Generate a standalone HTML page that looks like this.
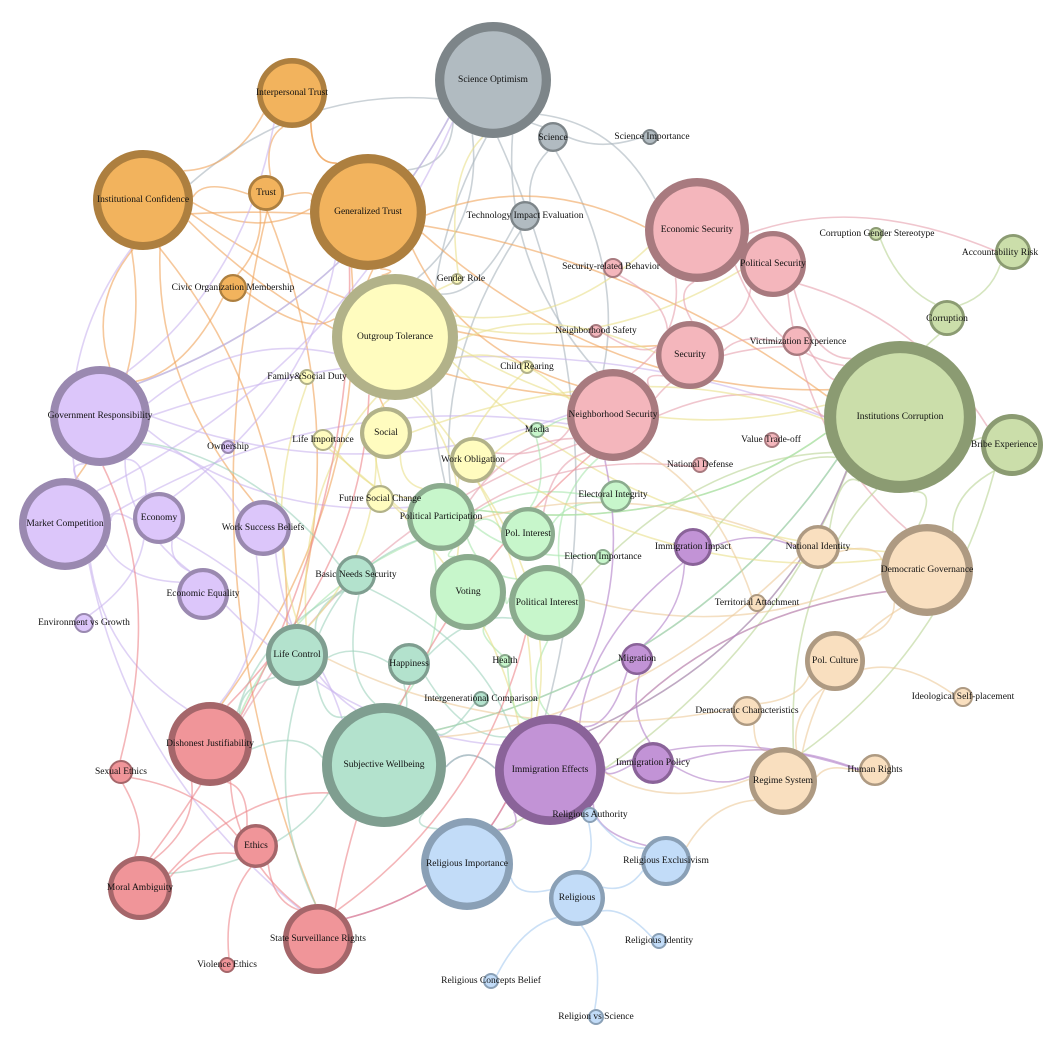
<!DOCTYPE html>
<html><head><meta charset="utf-8"><style>
html,body{margin:0;padding:0;background:#fff;width:1052px;height:1046px;overflow:hidden}
svg{display:block}
text{font-family:"Liberation Serif",serif;font-size:9.5px;fill:#111;text-anchor:middle;dominant-baseline:central}
</style></head><body>
<svg id="s" width="1052" height="1046" viewBox="0 0 1052 1046">
<g id="edges" fill="none" stroke-width="1.6" stroke-opacity="0.6"></g>
<g id="nodes"></g>
<g id="labels">
<text x="493" y="80">Science Optimism</text>
<text x="292" y="93">Interpersonal Trust</text>
<text x="143" y="200">Institutional Confidence</text>
<text x="266" y="193">Trust</text>
<text x="368" y="212">Generalized Trust</text>
<text x="233" y="288">Civic Organization Membership</text>
<text x="553" y="138">Science</text>
<text x="652" y="137">Science Importance</text>
<text x="525" y="216">Technology Impact Evaluation</text>
<text x="697" y="230">Economic Security</text>
<text x="773" y="264">Political Security</text>
<text x="611" y="267">Security-related Behavior</text>
<text x="877" y="234">Corruption Gender Stereotype</text>
<text x="1000" y="253">Accountability Risk</text>
<text x="947" y="319">Corruption</text>
<text x="461" y="279">Gender Role</text>
<text x="395" y="337">Outgroup Tolerance</text>
<text x="596" y="331">Neighborhood Safety</text>
<text x="690" y="355">Security</text>
<text x="798" y="342">Victimization Experience</text>
<text x="527" y="367">Child Rearing</text>
<text x="307" y="377">Family&amp;Social Duty</text>
<text x="900" y="417">Institutions Corruption</text>
<text x="1004" y="445">Bribe Experience</text>
<text x="100" y="416">Government Responsibility</text>
<text x="613" y="415">Neighborhood Security</text>
<text x="386" y="433">Social</text>
<text x="323" y="440">Life Importance</text>
<text x="228" y="447">Ownership</text>
<text x="537" y="430">Media</text>
<text x="771" y="440">Value Trade-off</text>
<text x="473" y="460">Work Obligation</text>
<text x="700" y="465">National Defense</text>
<text x="65" y="524">Market Competition</text>
<text x="159" y="518">Economy</text>
<text x="263" y="528">Work Success Beliefs</text>
<text x="380" y="499">Future Social Change</text>
<text x="441" y="517">Political Participation</text>
<text x="613" y="495">Electoral Integrity</text>
<text x="528" y="534">Pol. Interest</text>
<text x="693" y="547">Immigration Impact</text>
<text x="818" y="547">National Identity</text>
<text x="927" y="570">Democratic Governance</text>
<text x="603" y="557">Election Importance</text>
<text x="356" y="575">Basic Needs Security</text>
<text x="203" y="594">Economic Equality</text>
<text x="468" y="592">Voting</text>
<text x="547" y="603">Political Interest</text>
<text x="757" y="603">Territorial Attachment</text>
<text x="84" y="623">Environment vs Growth</text>
<text x="297" y="655">Life Control</text>
<text x="409" y="664">Happiness</text>
<text x="505" y="661">Health</text>
<text x="637" y="659">Migration</text>
<text x="835" y="661">Pol. Culture</text>
<text x="963" y="697">Ideological Self-placement</text>
<text x="481" y="699">Intergenerational Comparison</text>
<text x="747" y="711">Democratic Characteristics</text>
<text x="210" y="744">Dishonest Justifiability</text>
<text x="384" y="765">Subjective Wellbeing</text>
<text x="550" y="770">Immigration Effects</text>
<text x="653" y="763">Immigration Policy</text>
<text x="783" y="781">Regime System</text>
<text x="875" y="770">Human Rights</text>
<text x="121" y="772">Sexual Ethics</text>
<text x="590" y="815">Religious Authority</text>
<text x="256" y="846">Ethics</text>
<text x="666" y="861">Religious Exclusivism</text>
<text x="467" y="864">Religious Importance</text>
<text x="140" y="888">Moral Ambiguity</text>
<text x="577" y="898">Religious</text>
<text x="318" y="939">State Surveillance Rights</text>
<text x="659" y="941">Religious Identity</text>
<text x="227" y="965">Violence Ethics</text>
<text x="491" y="981">Religious Concepts Belief</text>
<text x="596" y="1017">Religion vs Science</text>
</g>
</svg>
<script>
var C={o:["#f2b35d","#ad7f3f","#f0a35a"],g:["#b1bbc1","#7d8589","#a8b4bc"],p:["#f4b6bc","#a87a7f","#e6a0ad"],G:["#cbdeaa","#8b9b72","#b9d494"],y:["#fffcbf","#b2b289","#e9e08a"],v:["#dcc6fa","#9a89b0","#c9b4ef"],l:["#c7f6cb","#8bab8e","#a8e6ae"],m:["#c293d6","#8a6399","#b07fc8"],e:["#f9dfbf","#ae9a82","#edc99a"],t:["#b3e2cd","#7f9e90","#9fd2bd"],r:["#f09599","#a5666a","#ec868b"],b:["#c2dcf8","#8aa0b6","#a9cbf0"]};
var N={
SO:[493,80,58,"g"],IT:[292,93,35,"o"],IC:[143,200,50,"o"],TR:[266,193,18,"o"],GT:[368,212,58,"o"],CO:[233,288,14,"o"],
SC:[553,137,15,"g"],SI:[650,137,8,"g"],TE:[525,216,15,"g"],ES:[697,230,52,"p"],PS:[773,264,33,"p"],SB:[613,268,10,"p"],
CG:[876,234,7,"G"],AR:[1013,252,18,"G"],CR:[947,318,18,"G"],GR:[457,279,6,"y"],OT:[395,337,63,"y"],NS:[596,331,7,"p"],
SE:[690,355,34,"p"],VE:[797,341,15,"p"],CH:[527,367,7,"y"],FD:[307,377,8,"y"],IN:[900,417,76,"G"],BE:[1012,445,31,"G"],
GV:[100,416,50,"v"],NH:[613,415,46,"p"],SOC:[386,433,26,"y"],LI:[323,440,11,"y"],OW:[228,447,7,"v"],ME:[537,430,8,"l"],
VT:[772,440,8,"p"],WO:[473,460,23,"y"],ND:[700,465,8,"p"],MC:[65,524,46,"v"],EC:[159,518,26,"v"],WS:[263,528,28,"v"],
FS:[380,499,14,"y"],PP:[441,517,34,"l"],EI:[616,496,16,"l"],PI:[528,534,27,"l"],II:[693,547,19,"m"],NI:[818,547,22,"e"],
DG:[927,570,46,"e"],EL:[603,557,8,"l"],BN:[356,575,20,"t"],EQ:[203,594,26,"v"],VO:[468,592,38,"l"],PO:[547,603,38,"l"],
TA:[757,603,9,"e"],EG:[84,623,10,"v"],LC:[297,655,31,"t"],HA:[409,664,21,"t"],HE:[505,661,7,"l"],MI:[637,659,16,"m"],
PC:[835,661,30,"e"],IS:[963,697,10,"e"],IG:[481,699,8,"t"],DC:[747,711,15,"e"],DJ:[210,744,42,"r"],SW:[384,765,62,"t"],
IE:[550,770,55,"m"],IP:[653,763,21,"m"],RS:[783,781,34,"e"],HR:[875,770,16,"e"],SX:[121,772,12,"r"],RA:[590,815,8,"b"],
ET:[256,846,22,"r"],RX:[666,861,25,"b"],RI:[467,864,46,"b"],MA:[140,888,32,"r"],RE:[577,898,28,"b"],SS:[318,939,35,"r"],
RD:[659,941,8,"b"],VI:[227,965,8,"r"],RC:[491,981,8,"b"],RV:[596,1017,8,"b"]};
var E="SO-GT SO-IC SO-GV SO-SC SO-ES SO-NH SO-IE SO-PP SO-OT SC-SI SC-NH SC-TE TE-OT TE-PP GT-IT GT-TR GT-IC GT-NH GT-ES GT-IN GT-OT GT-SOC GT-DJ IT-TR IT-IC IT-GT IC-TR IC-GV IC-MC IC-NH IC-IN IC-SE IC-LC IC-WS TR-CO TR-SS TR-LC CO-OT CO-GV GV-SO GV-IN GV-NH GV-EC GV-EQ GV-WS GV-PP GV-OT GV-IT MC-EC MC-DJ MC-GV MC-SS MC-IC MC-SO MC-NH MC-EQ EC-EG EC-GT EC-SW EQ-IE EQ-EC WS-SW WS-DJ OT-ES OT-NH OT-IN OT-SE OT-PS OT-IE OT-DG OT-VO OT-LC NH-IN NH-PP NH-SE NH-ES NH-VE NH-DJ NH-WO NH-PI ES-PS ES-SE ES-AR ES-IN PS-SE PS-IN PS-BE PS-DG SE-VE VE-IN SB-SE NS-SE IN-CR IN-BE IN-DG IN-PO IN-PP IN-RS IN-SW IN-NI IN-RI IN-II IN-IE CG-CR AR-CR BE-DG BE-RS DG-NI DG-PO DG-RS DG-PC DG-IE PC-DC PC-RS PC-IS HR-RS RS-IE RS-RX RS-DC PP-VO PP-PI PP-PO PP-SW PP-DJ PP-EI PP-IN PI-EI PI-ME PO-VO PO-IE PO-NH VO-HE II-MI II-IE II-NI MI-IP MI-IE IE-IP IE-RI IE-RX IE-SS IE-SW IE-HR IE-NH IE-DG IE-IN IP-HR IP-RS SW-LC SW-HA SW-BN SW-RI SW-MA SW-DJ SW-IE SW-IN LC-BN LC-DJ LC-HA LC-SS LC-PP HA-IE HA-PO BN-DJ BN-IE BN-GV DJ-ET DJ-SS DJ-MA DJ-OT MA-ET MA-SX MA-SW MA-GT SX-ET SX-GV SS-ET SS-IE SS-NH SS-PO VI-ET RI-RE RA-RE RA-RX RX-RE RD-RE RC-RE RV-RE FS-OT FS-PP SOC-IN SOC-PP SOC-LC LI-PP LI-IE FD-LC WO-NH WO-DG WO-IE CH-PP GR-SO GR-OT ME-NH ND-PP EL-PP TA-NH DC-LC NI-PP NI-SW HE-IE IG-SW".split(" ");
var ns="http://www.w3.org/2000/svg",eg=document.getElementById("edges"),ng=document.getElementById("nodes");
E.forEach(function(p,i){var a=N[p.split("-")[0]],b=N[p.split("-")[1]];if(!a||!b)return;
var dx=b[0]-a[0],dy=b[1]-a[1],L=Math.sqrt(dx*dx+dy*dy)||1,k=(i%2?0.15:-0.15);
var ux=dx/L,uy=dy/L,x1=a[0]+ux*a[2],y1=a[1]+uy*a[2],x2=b[0]-ux*b[2],y2=b[1]-uy*b[2];
var cx=(a[0]+b[0])/2-dy*k,cy=(a[1]+b[1])/2+dx*k;
var pa=document.createElementNS(ns,"path");pa.setAttribute("d","M"+x1+","+y1+"Q"+cx+","+cy+" "+x2+","+y2);
pa.setAttribute("stroke",C[a[3]][2]);eg.appendChild(pa);});
for(var k in N){var n=N[k],sw=Math.max(2,n[2]*0.16),c=document.createElementNS(ns,"circle");
c.setAttribute("cx",n[0]);c.setAttribute("cy",n[1]);c.setAttribute("r",n[2]-sw/2);
c.setAttribute("fill",C[n[3]][0]);c.setAttribute("stroke",C[n[3]][1]);c.setAttribute("stroke-width",sw);ng.appendChild(c);}
</script>
</body></html>
